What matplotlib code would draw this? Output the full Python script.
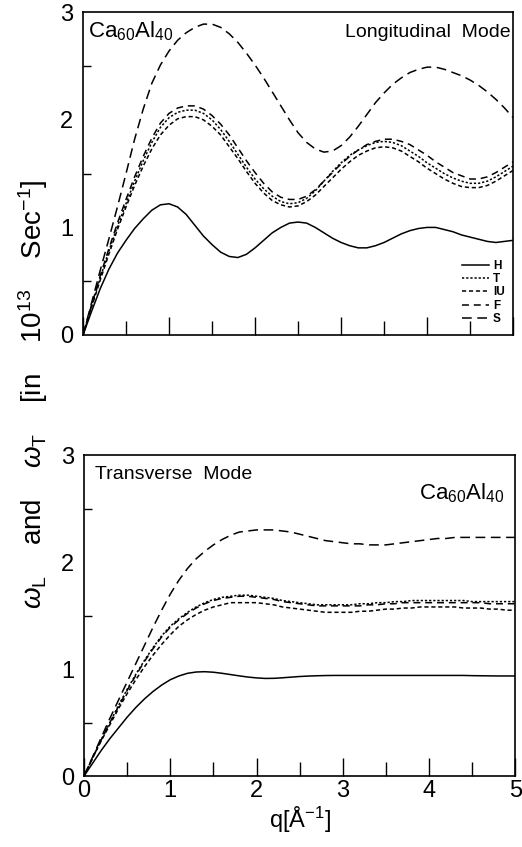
import numpy as np
import matplotlib
matplotlib.use('Agg')
import matplotlib.pyplot as plt

plt.rcParams['font.family'] = ['Liberation Sans', 'DejaVu Sans']
plt.rcParams['mathtext.fontset'] = 'custom'
plt.rcParams['mathtext.rm'] = 'Liberation Sans'
plt.rcParams['mathtext.it'] = 'Liberation Sans:italic'
plt.rcParams['lines.scale_dashes'] = False

# Wave vector grid q [1/A]
q = np.linspace(0, 5, 51)

# Longitudinal mode (upper panel)
h_long = [0, 0.22, 0.43, 0.61, 0.76, 0.88, 0.99, 1.08, 1.16, 1.21, 1.22,
          1.19, 1.12, 1.02, 0.92, 0.84, 0.77, 0.73, 0.72, 0.75, 0.81,
          0.88, 0.95, 1.00, 1.04, 1.05, 1.04, 1.00, 0.95, 0.90, 0.86,
          0.83, 0.81, 0.81, 0.83, 0.86, 0.90, 0.94, 0.97, 0.99, 1.00,
          1.00, 0.98, 0.96, 0.93, 0.91, 0.89, 0.87, 0.86, 0.87, 0.88]
t_long = [0, 0.27, 0.53, 0.78, 1.01, 1.22, 1.43, 1.62, 1.79, 1.93, 2.02,
          2.07, 2.09, 2.09, 2.06, 2.00, 1.91, 1.80, 1.68, 1.56, 1.45,
          1.36, 1.29, 1.24, 1.22, 1.23, 1.27, 1.34, 1.43, 1.52, 1.60,
          1.67, 1.72, 1.76, 1.79, 1.80, 1.79, 1.76, 1.71, 1.66, 1.60,
          1.55, 1.50, 1.46, 1.43, 1.41, 1.41, 1.43, 1.47, 1.52, 1.57]
iu_long = [0, 0.26, 0.51, 0.75, 0.98, 1.19, 1.39, 1.57, 1.73, 1.86, 1.95,
           2.01, 2.03, 2.03, 2.00, 1.94, 1.86, 1.75, 1.64, 1.52, 1.41,
           1.32, 1.25, 1.21, 1.19, 1.20, 1.24, 1.30, 1.38, 1.46, 1.54,
           1.61, 1.67, 1.71, 1.74, 1.75, 1.74, 1.71, 1.66, 1.61, 1.55,
           1.50, 1.45, 1.41, 1.38, 1.37, 1.37, 1.39, 1.43, 1.48, 1.53]
f_long = [0, 0.28, 0.55, 0.80, 1.04, 1.26, 1.47, 1.66, 1.83, 1.97, 2.06,
          2.11, 2.13, 2.13, 2.10, 2.04, 1.96, 1.86, 1.74, 1.62, 1.51,
          1.41, 1.33, 1.28, 1.26, 1.26, 1.29, 1.35, 1.43, 1.51, 1.59,
          1.66, 1.72, 1.77, 1.80, 1.82, 1.82, 1.80, 1.77, 1.72, 1.67,
          1.61, 1.56, 1.51, 1.48, 1.45, 1.45, 1.47, 1.51, 1.56, 1.61]
s_long = [0, 0.30, 0.60, 0.89, 1.19, 1.50, 1.82, 2.10, 2.34, 2.51, 2.64,
          2.74, 2.81, 2.86, 2.89, 2.89, 2.86, 2.80, 2.72, 2.62, 2.51,
          2.39, 2.26, 2.13, 2.00, 1.88, 1.79, 1.73, 1.70, 1.71, 1.76,
          1.84, 1.94, 2.05, 2.16, 2.25, 2.33, 2.39, 2.44, 2.47, 2.49,
          2.49, 2.47, 2.44, 2.41, 2.37, 2.32, 2.26, 2.19, 2.11, 2.02]

# Transverse mode (lower panel)
h_tran = [0, 0.12, 0.24, 0.35, 0.45, 0.55, 0.64, 0.72, 0.79, 0.85, 0.90,
          0.935, 0.96, 0.972, 0.975, 0.97, 0.96, 0.948, 0.936, 0.925, 0.917,
          0.912, 0.913, 0.918, 0.924, 0.93, 0.934, 0.937, 0.939, 0.94, 0.94,
          0.94, 0.94, 0.94, 0.94, 0.94, 0.94, 0.94, 0.94, 0.94, 0.94,
          0.94, 0.94, 0.94, 0.94, 0.938, 0.937, 0.936, 0.935, 0.935, 0.935]
t_tran = [0, 0.17, 0.34, 0.50, 0.66, 0.81, 0.95, 1.08, 1.20, 1.31, 1.40,
          1.47, 1.53, 1.58, 1.62, 1.65, 1.67, 1.68, 1.69, 1.69, 1.68,
          1.67, 1.66, 1.64, 1.63, 1.62, 1.61, 1.60, 1.60, 1.60, 1.60,
          1.60, 1.61, 1.61, 1.62, 1.62, 1.63, 1.63, 1.64, 1.64, 1.64,
          1.64, 1.64, 1.64, 1.64, 1.63, 1.63, 1.63, 1.63, 1.63, 1.63]
iu_tran = [0, 0.17, 0.33, 0.48, 0.63, 0.77, 0.90, 1.02, 1.13, 1.23, 1.32,
           1.40, 1.46, 1.51, 1.55, 1.58, 1.60, 1.62, 1.62, 1.62, 1.62,
           1.61, 1.60, 1.58, 1.57, 1.56, 1.55, 1.54, 1.53, 1.53, 1.53,
           1.53, 1.54, 1.54, 1.55, 1.56, 1.56, 1.57, 1.57, 1.58, 1.58,
           1.58, 1.58, 1.58, 1.57, 1.57, 1.57, 1.56, 1.56, 1.55, 1.55]
f_tran = [0, 0.17, 0.34, 0.50, 0.65, 0.80, 0.94, 1.07, 1.19, 1.30, 1.39,
          1.46, 1.52, 1.57, 1.61, 1.64, 1.66, 1.67, 1.68, 1.68, 1.67,
          1.66, 1.65, 1.63, 1.62, 1.61, 1.60, 1.59, 1.59, 1.59, 1.59,
          1.59, 1.59, 1.60, 1.60, 1.61, 1.61, 1.62, 1.62, 1.62, 1.62,
          1.62, 1.62, 1.62, 1.62, 1.62, 1.62, 1.61, 1.61, 1.61, 1.61]
s_tran = [0, 0.18, 0.36, 0.54, 0.71, 0.88, 1.05, 1.22, 1.39, 1.55, 1.70,
          1.83, 1.94, 2.03, 2.10, 2.16, 2.21, 2.25, 2.28, 2.29, 2.30,
          2.30, 2.30, 2.29, 2.28, 2.26, 2.24, 2.22, 2.20, 2.19, 2.18,
          2.17, 2.17, 2.16, 2.16, 2.16, 2.17, 2.18, 2.19, 2.20, 2.21,
          2.22, 2.22, 2.23, 2.23, 2.23, 2.23, 2.23, 2.23, 2.23, 2.23]

labels = ['H', 'T', 'IU', 'F', 'S']
# line styles: solid, dotted, short, medium and long dashes
styles = ['-', (0, (1.6, 1.4)), (0, (3, 2)), (0, (5, 3.5)), (0, (7, 4))]

fig = plt.figure(figsize=(5.22, 8.47), dpi=100)
ax1 = fig.add_axes([0.159, 0.6045, 0.824, 0.381])
ax2 = fig.add_axes([0.161, 0.0838, 0.826, 0.379])

for ys, lab, ls in zip([h_long, t_long, iu_long, f_long, s_long], labels, styles):
    ax1.plot(q, ys, color='black', linestyle=ls, linewidth=1.1, label=lab)

for ys, lab, ls in zip([h_tran, t_tran, iu_tran, f_tran, s_tran], labels, styles):
    ax2.plot(q, ys, color='black', linestyle=ls, linewidth=1.1, label=lab)

for ax in (ax1, ax2):
    ax.set_xlim(0, 5)
    ax.set_ylim(0, 3)
    ax.set_xticks([0, 1, 2, 3, 4, 5])
    ax.set_xticks([0.5, 1.5, 2.5, 3.5, 4.5], minor=True)
    ax.set_yticks([0, 1, 2, 3])
    ax.set_yticks([0.5, 1.5, 2.5], minor=True)
    ax.tick_params(axis='x', which='major', direction='in', length=13, width=1.0,
                   labelsize=17, pad=3, top=False)
    ax.tick_params(axis='x', which='minor', direction='in', length=10, width=1.0, top=False)
    ax.tick_params(axis='y', which='both', direction='in', length=6, width=1.0,
                   labelsize=17, pad=7, right=False)
    for sp in ax.spines.values():
        sp.set_linewidth(1.2)

ax1.tick_params(axis='x', labelbottom=False)
ax1.tick_params(axis='y', which='major', length=0)
ax2.tick_params(axis='y', which='major', length=0)

# Panel annotations
ax1.text(0.012, 0.978, r'Ca$_{60}$Al$_{40}$', transform=ax1.transAxes,
         fontsize=16, ha='left', va='top')
ax1.text(0.995, 0.965, 'Longitudinal  Mode', transform=ax1.transAxes,
         fontsize=14, ha='right', va='top')
ax2.text(0.025, 0.965, 'Transverse  Mode', transform=ax2.transAxes,
         fontsize=14, ha='left', va='top')
ax2.text(0.975, 0.918, r'Ca$_{60}$Al$_{40}$', transform=ax2.transAxes,
         fontsize=16, ha='right', va='top')

leg = ax1.legend(loc='lower right', bbox_to_anchor=(0.98, 0.03), frameon=False,
                 prop={'size': 8.5, 'weight': 'bold'}, handlelength=2.3,
                 handletextpad=0.3, labelspacing=0.12, borderpad=0, borderaxespad=0)

ax2.set_xlabel(r'q[Å$^{-1}$]', fontsize=17, labelpad=2)

gap = '    '
ylab = (r'$\omega_\mathrm{L}$' + gap + 'and' + gap + r'$\omega_\mathrm{T}$' + gap
        + '[in' + gap + r'10$^{13}$' + gap + r'Sec$^{-1}$]')
fig.text(0.064, 0.534, ylab, rotation=90, ha='center', va='center', fontsize=20)

fig.savefig('out.png', dpi=100)
